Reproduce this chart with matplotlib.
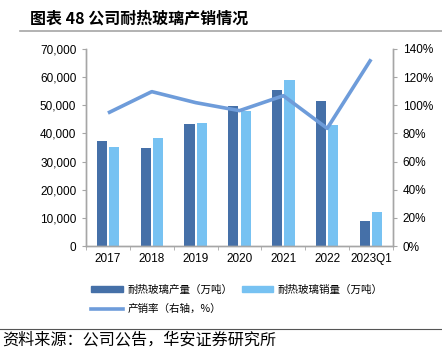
import matplotlib
matplotlib.use("Agg")
import matplotlib.pyplot as plt
from matplotlib.lines import Line2D
import numpy as np

# ── Data ────────────────────────────────────────────────────────
years      = ["2017", "2018", "2019", "2020", "2021", "2022", "2023Q1"]
production = [37300, 35000, 43200, 49700, 55500, 51700, 8900]
sales      = [35200, 38400, 43800, 48000, 58900, 43100, 12000]
ratio_pct  = [94.5, 109.7, 101.9, 96.2, 106.8, 83.6, 132.7]

DARK  = "#4570A8"
LIGHT = "#77C2F2"
LINE  = "#6E9CDA"
GREY  = "#A6A6A6"

CJK = ["Noto Sans CJK SC", "DejaVu Sans"]
NUM = ["Liberation Sans", "Noto Sans CJK SC"]

fig = plt.figure(figsize=(4.42, 3.51), dpi=100)
ax = fig.add_axes([0.1946, 0.2991, 0.6945, 0.5613])
ax2 = ax.twinx()

x = np.arange(len(years))
w = 0.23
gap = 0.025
ax.bar(x - w / 2 - gap, production, width=w, color=DARK, zorder=2)
ax.bar(x + w / 2 + gap, sales, width=w, color=LIGHT, zorder=2)
ax2.plot(x, ratio_pct, color=LINE, lw=2.6, solid_capstyle="butt", zorder=3)

ax.set_xlim(-0.5, len(years) - 0.5)
ax.set_ylim(0, 70000)
ax.set_yticks(np.arange(0, 70001, 10000))
ax.set_yticklabels([f"{v:,}" for v in range(0, 70001, 10000)], family=NUM, fontsize=8.5)
ax2.set_ylim(0, 140)
ax2.set_yticks(np.arange(0, 141, 20))
ax2.set_yticklabels([f"{v}%" for v in range(0, 141, 20)], family=NUM, fontsize=8.5)

ax.set_xticks(x)
ax.set_xticklabels(years, family=NUM, fontsize=8.5)
ax.set_xticks(np.arange(-0.5, len(years), 1), minor=True)
ax.tick_params(axis="x", which="major", length=0, pad=5)
ax.tick_params(axis="x", which="minor", length=3, color=GREY)
ax.tick_params(axis="y", length=3, color=GREY, pad=4)
ax2.tick_params(axis="y", length=3, color=GREY, pad=4)

for a in (ax, ax2):
    a.spines["top"].set_visible(False)
    for s in ("left", "right", "bottom"):
        a.spines[s].set_color(GREY)
        a.spines[s].set_linewidth(1.0)

# ── Legend ──────────────────────────────────────────────────────
h_prod = plt.Rectangle((0, 0), 1, 1, color=DARK)
h_sale = plt.Rectangle((0, 0), 1, 1, color=LIGHT)
h_rat  = Line2D([0], [0], color=LINE, lw=2.6)
leg = fig.legend([h_prod, h_rat, h_sale],
                 ["耐热玻璃产量（万吨）", "产销率（右轴，%）", "耐热玻璃销量（万吨）"],
                 ncol=2, loc="upper left", bbox_to_anchor=(0.185, 0.217),
                 frameon=False, prop={"family": CJK, "size": 7.6},
                 handlelength=3.0, handleheight=0.45, handletextpad=0.4,
                 columnspacing=0.9, labelspacing=0.9)

# ── Title, rules, source ────────────────────────────────────────
fig.text(0.068, 0.948, "图表 48 公司耐热玻璃产销情况", family=CJK,
         fontsize=11.5, fontweight="bold", va="center", ha="left")
fig.add_artist(Line2D([0.045, 1.0], [0.912, 0.912], color=GREY, lw=1.2))
fig.add_artist(Line2D([0.0, 1.0], [0.063, 0.063], color="#555555", lw=0.8))
fig.text(0.005, 0.032, "资料来源：公司公告，华安证券研究所", family=CJK,
         fontsize=11.6, va="center", ha="left")

plt.savefig("out.png", dpi=100)
plt.close()
